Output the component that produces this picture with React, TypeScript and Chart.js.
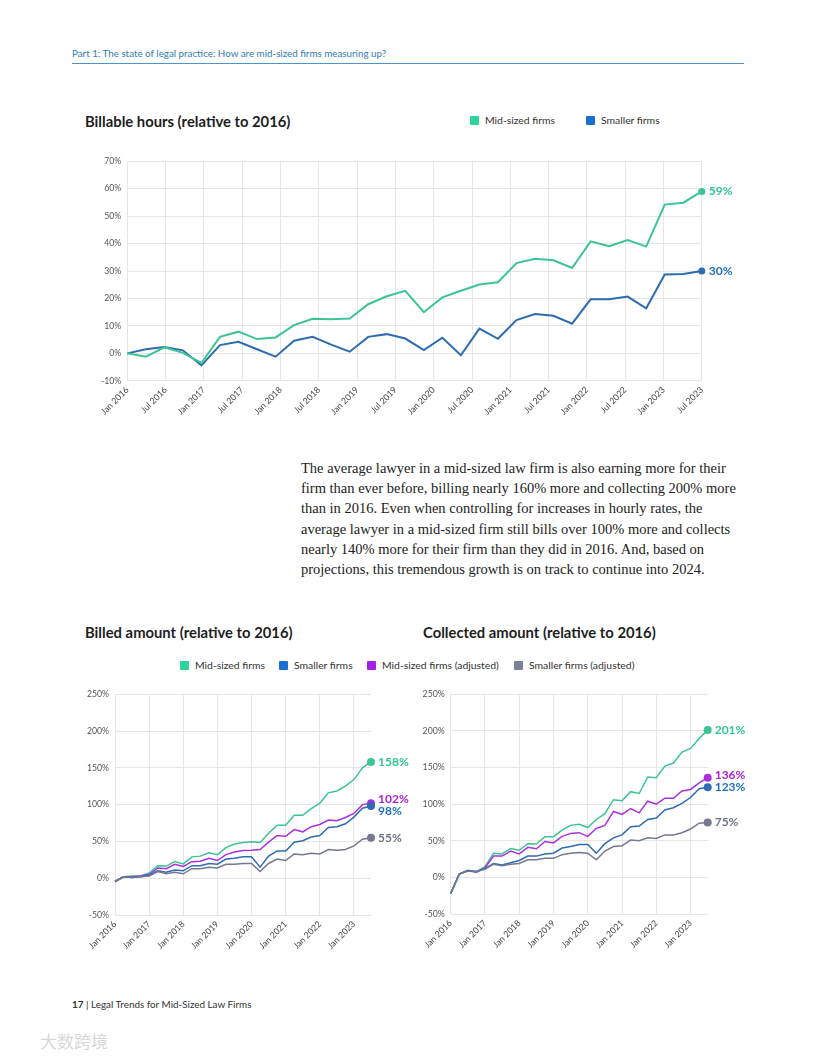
import React, { useEffect, useRef } from "react";
import { Chart, registerables } from "chart.js";

Chart.register(...registerables);

// ---------- DATA ----------
// Billable hours (relative to 2016), evenly spaced points Jan 2016 -> Jul 2023
const billableMid = [0, -1.2, 2.2, 0.2, -3.5, 6.0, 7.9, 5.2, 5.8, 10.3, 12.6, 12.4, 12.7, 17.9, 20.8, 22.8, 15.0, 20.4, 22.8, 25.1, 25.9, 32.9, 34.5, 33.9, 31.1, 40.8, 39.0, 41.3, 38.9, 54.2, 54.9, 59.0];
const billableSmall = [0, 1.5, 2.3, 1.1, -4.4, 3.0, 4.2, 1.5, -1.2, 4.6, 6.0, 3.2, 0.6, 6.0, 7.0, 5.4, 1.2, 5.7, -0.7, 9.0, 5.3, 12.1, 14.3, 13.7, 10.8, 19.7, 19.7, 20.7, 16.4, 28.7, 28.9, 30.0];

// Billed amount (relative to 2016), quarterly Jan 2016 -> Jul 2023
const billedMid = [-4.5, 2, 3, 3, 7, 17, 16.5, 22.5, 19.5, 29, 30, 34.5, 32, 41.5, 46.5, 48.5, 49.5, 48.5, 61, 72, 72, 85.5, 85.5, 94.5, 102, 116, 118.5, 125, 134, 150, 158];
const billedSmall = [-4.5, 2, 1, 2, 4, 10, 8, 11, 10, 17, 17, 20, 19, 26, 27, 29, 29, 15, 30, 37, 37, 49, 51, 56, 58, 69, 70, 74, 83, 95, 98];
const billedMidAdj = [-4.5, 2, 2, 3, 5, 14, 13, 19, 16, 22.5, 23, 27, 24, 32, 35.5, 37.5, 38, 39, 49, 58, 57, 66, 63, 70, 73, 79, 78, 82.5, 88, 100, 102];
const billedSmallAdj = [-4.5, 2, 1, 2, 3, 9, 6, 8, 6, 13, 13, 15, 14, 19, 19, 20, 20, 9, 20, 26, 24, 33, 32, 34, 33, 39, 38, 39, 44, 53, 55];

// Collected amount (relative to 2016), quarterly Jan 2016 -> Jul 2023
const collectedMid = [-22, 4.5, 10, 7.5, 14.5, 33, 32, 39.5, 37, 46, 45.5, 55.5, 55.5, 64.5, 71, 72.5, 68, 79, 87, 106, 104.5, 117, 114.5, 137, 136, 152, 156, 171, 176, 189.5, 201];
const collectedSmall = [-22, 4.5, 9, 8, 12, 19, 17, 20, 23, 29, 29, 32, 33, 40, 42, 45, 45, 33, 46, 54, 58, 69, 70, 79, 81, 92, 95, 101, 109, 121, 123];
const collectedMidAdj = [-22, 4.5, 9, 7, 13, 29, 29, 36, 32, 41, 39, 49, 47, 56, 60, 61, 56, 67, 71, 90, 86, 94, 88, 104, 100, 108, 108, 118, 120, 129, 136];
const collectedSmallAdj = [-22, 4.5, 9, 8, 11, 18, 16, 18, 19, 24, 24, 26, 26, 31, 33, 34, 33, 24, 36, 42, 43, 51, 50, 54, 53, 58, 58, 61, 66, 74, 75];

const seriesNames = ["Mid-sized firms", "Smaller firms", "Mid-sized firms (adjusted)", "Smaller firms (adjusted)"];
const halfYearTickLabels = ["Jan 2016", "Jul 2016", "Jan 2017", "Jul 2017", "Jan 2018", "Jul 2018", "Jan 2019", "Jul 2019", "Jan 2020", "Jul 2020", "Jan 2021", "Jul 2021", "Jan 2022", "Jul 2022", "Jan 2023", "Jul 2023"];
const yearTickLabels = ["Jan 2016", "Jan 2017", "Jan 2018", "Jan 2019", "Jan 2020", "Jan 2021", "Jan 2022", "Jan 2023"];

// ---------- STYLE ----------
const FONT = 'Lato, "Open Sans", "DejaVu Sans", sans-serif';
const C_GREEN = "#3cc494";
const C_BLUE = "#2d6cb0";
const C_PURPLE = "#ab2fe0";
const C_GRAY = "#747890";
const L_GREEN = "#2ec78f";
const L_BLUE = "#1f6ec4";
const L_PURPLE = "#a823dc";
const L_GRAY = "#6e7388";
const LEG_GREEN = "#2dd497";
const LEG_BLUE = "#1a6fd4";
const LEG_PURPLE = "#a51fea";
const LEG_GRAY = "#7b8099";

type Series = { name: string; values: number[]; color: string; labelColor: string; labelOffset: number };

const endLabelPlugin = {
  id: "endLabels",
  afterDatasetsDraw(chart: any) {
    const ctx = chart.ctx;
    const opts = chart.options.plugins.endLabels || {};
    chart.data.datasets.forEach((ds: any, i: number) => {
      const meta = chart.getDatasetMeta(i);
      const pt = meta.data[meta.data.length - 1];
      if (!pt) return;
      const v = ds.data[ds.data.length - 1].y;
      ctx.save();
      ctx.font = `bold ${opts.size || 12}px ${FONT}`;
      ctx.fillStyle = ds.labelColor;
      ctx.textAlign = "left";
      ctx.textBaseline = "middle";
      ctx.fillText(`${Math.round(v)}%`, pt.x + 7, pt.y + (ds.labelOffset || 0));
      ctx.restore();
    });
  },
};

type ChartProps = {
  box: { left: number; top: number; w: number; h: number };
  plot: { left: number; right: number; top: number; bottom: number };
  series: Series[];
  xMax: number;
  xStep: number;
  xTickLabels: string[];
  pointSpan: number;
  yMin: number;
  yMax: number;
  yStep: number;
  lineWidth: number;
  labelSize: number;
  dotRadius: number;
};

function LineChart(p: ChartProps) {
  const ref = useRef<HTMLCanvasElement | null>(null);
  useEffect(() => {
    if (!ref.current) return;
    const datasets = p.series.map((s) => {
      const n = s.values.length;
      return {
        label: s.name,
        data: s.values.map((v, i) => ({ x: (i * p.pointSpan) / (n - 1), y: v })),
        borderColor: s.color,
        backgroundColor: s.color,
        borderWidth: p.lineWidth,
        tension: 0,
        clip: false,
        pointRadius: (c: any) => (c.dataIndex === n - 1 ? p.dotRadius : 0),
        pointHoverRadius: 0,
        pointBorderWidth: 0,
        labelColor: s.labelColor,
        labelOffset: s.labelOffset,
      };
    });
    const chart = new Chart(ref.current, {
      type: "line",
      data: { datasets: datasets as any },
      plugins: [endLabelPlugin],
      options: {
        responsive: false,
        animation: false,
        layout: { padding: { left: 0, top: p.plot.top, right: p.box.w - p.plot.right, bottom: 0 } },
        plugins: {
          legend: { display: false },
          tooltip: { enabled: false },
          endLabels: { size: p.labelSize },
        } as any,
        scales: {
          x: {
            type: "linear",
            min: 0,
            max: p.xMax,
            afterFit: (s: any) => {
              s.height = p.box.h - p.plot.bottom;
            },
            grid: { color: "#e6e6e6", lineWidth: 1, drawTicks: false },
            border: { display: false },
            ticks: {
              stepSize: p.xStep,
              includeBounds: false,
              autoSkip: false,
              maxRotation: 45,
              minRotation: 45,
              padding: 4,
              color: "#444",
              font: { family: FONT, size: 8.7 },
              callback: (v: any) => p.xTickLabels[Math.round(Number(v) / p.xStep)] ?? "",
            },
          },
          y: {
            min: p.yMin,
            max: p.yMax,
            afterFit: (s: any) => {
              s.width = p.plot.left;
            },
            grid: { color: "#e6e6e6", lineWidth: 1, drawTicks: false },
            border: { display: false },
            ticks: {
              stepSize: p.yStep,
              padding: 6,
              color: "#555",
              font: { family: FONT, size: 8.7 },
              callback: (v: any) => `${v}%`,
            },
          },
        },
      } as any,
    });
    return () => chart.destroy();
  }, []);
  return (
    <canvas
      ref={ref}
      width={p.box.w}
      height={p.box.h}
      style={{ position: "absolute", left: p.box.left, top: p.box.top, width: p.box.w, height: p.box.h }}
    />
  );
}

function LegendItem({ left, top, color, text }: { left: number; top: number; color: string; text: string }) {
  return (
    <div style={{ position: "absolute", left, top, display: "flex", alignItems: "center", whiteSpace: "nowrap" }}>
      <div style={{ width: 9, height: 9, background: color, marginRight: 6, borderRadius: 1 }} />
      <span style={{ fontFamily: FONT, fontSize: 10.4, color: "#333", lineHeight: "12px" }}>{text}</span>
    </div>
  );
}

const abs = (left: number, top: number, extra: React.CSSProperties = {}): React.CSSProperties => ({
  position: "absolute",
  left,
  top,
  whiteSpace: "nowrap",
  ...extra,
});

export default function App() {
  const paragraph = [
    "The average lawyer in a mid-sized law firm is also earning more for their",
    "firm than ever before, billing nearly 160% more and collecting 200% more",
    "than in 2016. Even when controlling for increases in hourly rates, the",
    "average lawyer in a mid-sized firm still bills over 100% more and collects",
    "nearly 140% more for their firm than they did in 2016. And, based on",
    "projections, this tremendous growth is on track to continue into 2024.",
  ];
  const titleStyle = { fontFamily: FONT, fontSize: 14.8, fontWeight: 700, color: "#1e1e1e", lineHeight: "18px" };
  return (
    <div style={{ position: "absolute", left: 0, top: 0, width: 816, height: 1056, background: "#fff", overflow: "hidden" }}>
      {/* header */}
      <div style={abs(72, 46, { fontFamily: FONT, fontSize: 9.8, color: "#2f7db3", lineHeight: "14px" })}>
        Part 1: The state of legal practice: How are mid-sized firms measuring up?
      </div>
      <div style={{ position: "absolute", left: 72, top: 63, width: 672, height: 1, background: "#4f93c4" }} />

      {/* top chart */}
      <div style={abs(85, 112, titleStyle)}>Billable hours (relative to 2016)</div>
      <LegendItem left={470} top={114} color={LEG_GREEN} text={seriesNames[0]} />
      <LegendItem left={586} top={114} color={LEG_BLUE} text={seriesNames[1]} />
      <LineChart
        box={{ left: 80, top: 150, w: 680, h: 280 }}
        plot={{ left: 47.3, right: 621.8, top: 10.8, bottom: 230.8 }}
        series={[
          { name: seriesNames[0], values: billableMid, color: C_GREEN, labelColor: L_GREEN, labelOffset: 0 },
          { name: seriesNames[1], values: billableSmall, color: C_BLUE, labelColor: L_BLUE, labelOffset: 0 },
        ]}
        xMax={15}
        xStep={1}
        xTickLabels={halfYearTickLabels}
        pointSpan={15}
        yMin={-10}
        yMax={70}
        yStep={10}
        lineWidth={2}
        labelSize={12}
        dotRadius={3.5}
      />

      {/* paragraph */}
      <div style={abs(301, 458, { fontFamily: '"Liberation Serif", "Times New Roman", serif', fontSize: 14.5, color: "#222", lineHeight: "20.2px" })}>
        {paragraph.map((l, i) => (
          <div key={i}>{l}</div>
        ))}
      </div>

      {/* bottom titles */}
      <div style={abs(85, 623, titleStyle)}>Billed amount (relative to 2016)</div>
      <div style={abs(423, 623, titleStyle)}>Collected amount (relative to 2016)</div>
      <LegendItem left={180} top={659} color={LEG_GREEN} text={seriesNames[0]} />
      <LegendItem left={279} top={659} color={LEG_BLUE} text={seriesNames[1]} />
      <LegendItem left={367} top={659} color={LEG_PURPLE} text={seriesNames[2]} />
      <LegendItem left={514} top={659} color={LEG_GRAY} text={seriesNames[3]} />

      <LineChart
        box={{ left: 75, top: 683, w: 340, h: 270 }}
        plot={{ left: 40, right: 296, top: 10.3, bottom: 232 }}
        series={[
          { name: seriesNames[3], values: billedSmallAdj, color: C_GRAY, labelColor: L_GRAY, labelOffset: 0 },
          { name: seriesNames[1], values: billedSmall, color: C_BLUE, labelColor: L_BLUE, labelOffset: 5 },
          { name: seriesNames[2], values: billedMidAdj, color: C_PURPLE, labelColor: L_PURPLE, labelOffset: -4 },
          { name: seriesNames[0], values: billedMid, color: C_GREEN, labelColor: L_GREEN, labelOffset: 0 },
        ]}
        xMax={30}
        xStep={4}
        xTickLabels={yearTickLabels}
        pointSpan={30}
        yMin={-50}
        yMax={250}
        yStep={50}
        lineWidth={1.5}
        labelSize={12}
        dotRadius={4}
      />
      <LineChart
        box={{ left: 410, top: 683, w: 345, h: 270 }}
        plot={{ left: 40.7, right: 297.7, top: 10.3, bottom: 231 }}
        series={[
          { name: seriesNames[3], values: collectedSmallAdj, color: C_GRAY, labelColor: L_GRAY, labelOffset: 0 },
          { name: seriesNames[1], values: collectedSmall, color: C_BLUE, labelColor: L_BLUE, labelOffset: 0 },
          { name: seriesNames[2], values: collectedMidAdj, color: C_PURPLE, labelColor: L_PURPLE, labelOffset: -3 },
          { name: seriesNames[0], values: collectedMid, color: C_GREEN, labelColor: L_GREEN, labelOffset: 0 },
        ]}
        xMax={30}
        xStep={4}
        xTickLabels={yearTickLabels}
        pointSpan={30}
        yMin={-50}
        yMax={250}
        yStep={50}
        lineWidth={1.5}
        labelSize={12}
        dotRadius={4}
      />

      {/* footer */}
      <div style={abs(72, 997, { fontFamily: FONT, fontSize: 9.9, color: "#333", lineHeight: "14px" })}>
        <b>17</b> | Legal Trends for Mid-Sized Law Firms
      </div>
      <div style={abs(40, 1030, { fontFamily: '"Noto Sans CJK SC", sans-serif', fontSize: 17, color: "#d8d8d8", lineHeight: "22px" })}>
        大数跨境
      </div>
    </div>
  );
}
